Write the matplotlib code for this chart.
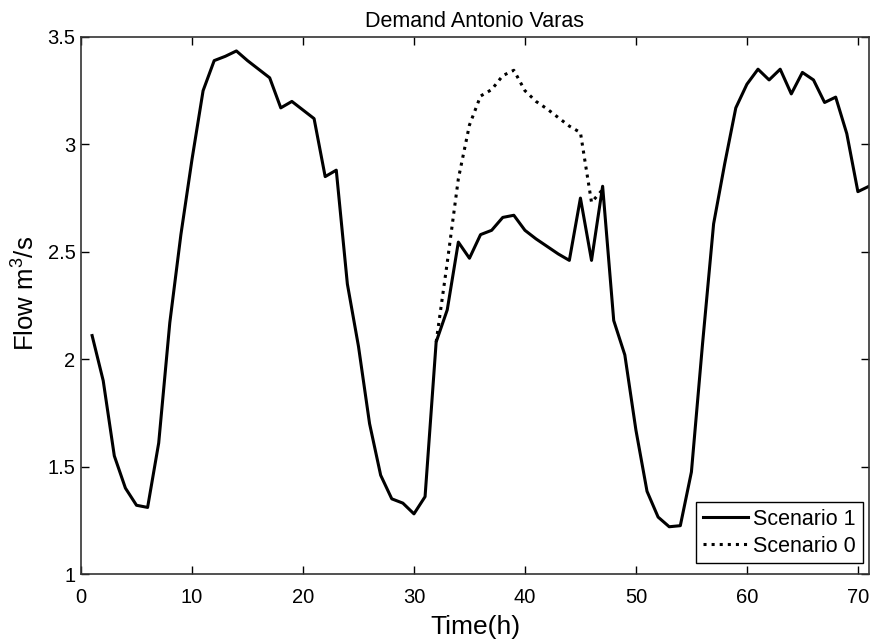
import numpy as np
import matplotlib
matplotlib.use('Agg')
import matplotlib.pyplot as plt

plt.rcParams['font.family'] = ['Liberation Sans', 'DejaVu Sans']
plt.rcParams['mathtext.fontset'] = 'custom'
plt.rcParams['mathtext.rm'] = 'Liberation Sans'
plt.rcParams['mathtext.default'] = 'regular'

# Datos (hora 1 a 71)
hours = np.arange(1, 72)
scenario_1 = [2.11, 1.90, 1.55, 1.40, 1.32, 1.31, 1.61, 2.17, 2.58, 2.93,
              3.25, 3.39, 3.41, 3.435, 3.39, 3.35, 3.31, 3.17, 3.20, 3.16,
              3.12, 2.85, 2.88, 2.35, 2.06, 1.70, 1.46, 1.35, 1.33, 1.28,
              1.36, 2.08, 2.23, 2.545, 2.47, 2.58, 2.60, 2.66, 2.67, 2.60,
              2.56, 2.525, 2.49, 2.46, 2.75, 2.46, 2.805, 2.18, 2.02, 1.67,
              1.385, 1.265, 1.22, 1.225, 1.475, 2.07, 2.63, 2.91, 3.17, 3.28,
              3.35, 3.30, 3.35, 3.235, 3.335, 3.30, 3.195, 3.22, 3.05, 2.78,
              2.805]

# Escenario 0 solo difiere entre las horas 32 y 47
hours_s0 = np.arange(32, 48)
scenario_0 = [2.08, 2.45, 2.84, 3.09, 3.225, 3.255, 3.32, 3.345, 3.25, 3.20,
              3.165, 3.125, 3.085, 3.055, 2.73, 2.79]

fig = plt.figure(figsize=(8.73, 6.42), dpi=100)
ax = fig.add_axes((0.0928, 0.1059, 0.9026, 0.8365))

l1, = ax.plot(hours, scenario_1, 'k-', lw=2.2, label='Scenario 1')
l0, = ax.plot(hours_s0, scenario_0, 'k:', lw=2.2, label='Scenario 0')

ax.set_xlim(0, 71)
ax.set_ylim(1, 3.5)
ax.set_xticks(np.arange(0, 71, 10))
ax.set_yticks([1, 1.5, 2, 2.5, 3, 3.5])
ax.set_yticklabels(['1', '1.5', '2', '2.5', '3', '3.5'])

ax.tick_params(direction='in', length=6, width=1, top=True, right=True,
               labelsize=14.5, colors='black')
ax.tick_params(axis='x', pad=10)
ax.tick_params(axis='y', pad=4)
for s in ax.spines.values():
    s.set_linewidth(1.2)
    s.set_color('#333333')

ax.set_title('Demand Antonio Varas', fontsize=15.5, pad=7)
ax.set_xlabel('Time(h)', fontsize=19, labelpad=6)
ax.set_ylabel('Flow m$^3$/s', fontsize=18.5)
ax.yaxis.set_label_coords(-0.052, 0.523)

leg = ax.legend(handles=[l1, l0], loc='lower right', fontsize=15.5,
                bbox_to_anchor=(1, 0.008),
                fancybox=False, edgecolor='black', framealpha=1,
                borderaxespad=0.3, handlelength=2.1, handletextpad=0.25,
                borderpad=0.3, labelspacing=0.28)
leg.get_frame().set_linewidth(1.0)

fig.savefig('out.png', dpi=100)
